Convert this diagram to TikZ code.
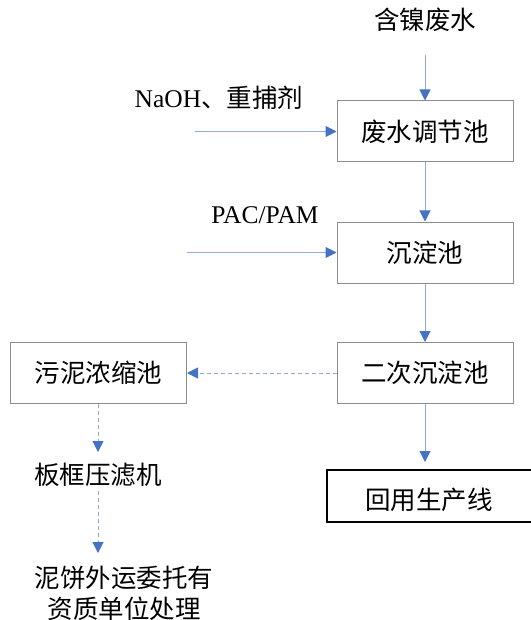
\documentclass[tikz,border=0pt]{standalone}
\usepackage{fontspec}
\setmainfont{Liberation Serif}
\newfontfamily\cjk{Noto Sans CJK SC}
\usetikzlibrary{arrows.meta}
\definecolor{lineblue}{HTML}{8FAADC}
\definecolor{headblue}{HTML}{4472C4}
\definecolor{boxgray}{HTML}{8C8C8C}
\tikzset{
  txt/.style={font=\fontsize{25.5}{31}\selectfont, inner sep=0pt, align=center},
  procbox/.style={txt, draw=boxgray, line width=1pt, minimum width=176pt, minimum height=61pt},
  endbox/.style={draw=black, line width=2pt, minimum width=213pt, minimum height=52pt, inner sep=0pt},
  flow/.style={draw=lineblue, line width=1pt, -{Triangle[width=11pt,length=11pt,fill=headblue,color=headblue]}},
  dflow/.style={flow, dash pattern=on 4pt off 3pt}
}
\begin{document}
\begin{tikzpicture}[x=1pt,y=-1pt]
\useasboundingbox (0,0) rectangle (530,620);
% texts
\node[txt] (src) at (425,20) {\cjk 含镍废水};
\node[txt] (naoh) at (219,98) {NaOH\cjk 、重捕剂};
\node[txt] (pac) at (265,215) {PAC/PAM};
% boxes
\node[procbox] (adj) at (425,131.5) {\cjk 废水调节池};
\node[procbox] (sed) at (425,252.5) {\cjk 沉淀池};
\node[procbox] (sed2) at (425,373) {\cjk 二次沉淀池};
\node[procbox] (thick) at (98.5,373) {\cjk 污泥浓缩池};
\node[endbox] (reuse) at (433.5,496) {};
\node[txt] (reusetxt) at (429,500) {\cjk 回用生产线};
\node[txt] (press) at (98,475) {\cjk 板框压滤机};
\node[txt] (cake) at (124,593) {\cjk 泥饼外运委托有\\\cjk 资质单位处理};
% free ends
\coordinate (srcstart) at (425,55);
\coordinate (naohstart) at (195,131.5);
\coordinate (pacstart) at (187,252.5);
\coordinate (reuseend) at (425,462);
\coordinate (pressend) at (98,452);
\coordinate (pressstart) at (98,491);
\coordinate (cakeend) at (98,553);
% connectors
\draw[flow] (srcstart) -- (adj.north -| srcstart);
\draw[flow] (naohstart) -- (adj.west |- naohstart);
\draw[flow] (adj.south) -- (sed.north);
\draw[flow] (pacstart) -- (sed.west |- pacstart);
\draw[flow] (sed.south) -- (sed2.north);
\draw[flow] (sed2.south -| reuseend) -- (reuseend);
\draw[dflow] (sed2.west) -- (thick.east);
\draw[dflow] (thick.south -| pressend) -- (pressend);
\draw[dflow] (pressstart) -- (cakeend);
\end{tikzpicture}
\end{document}
